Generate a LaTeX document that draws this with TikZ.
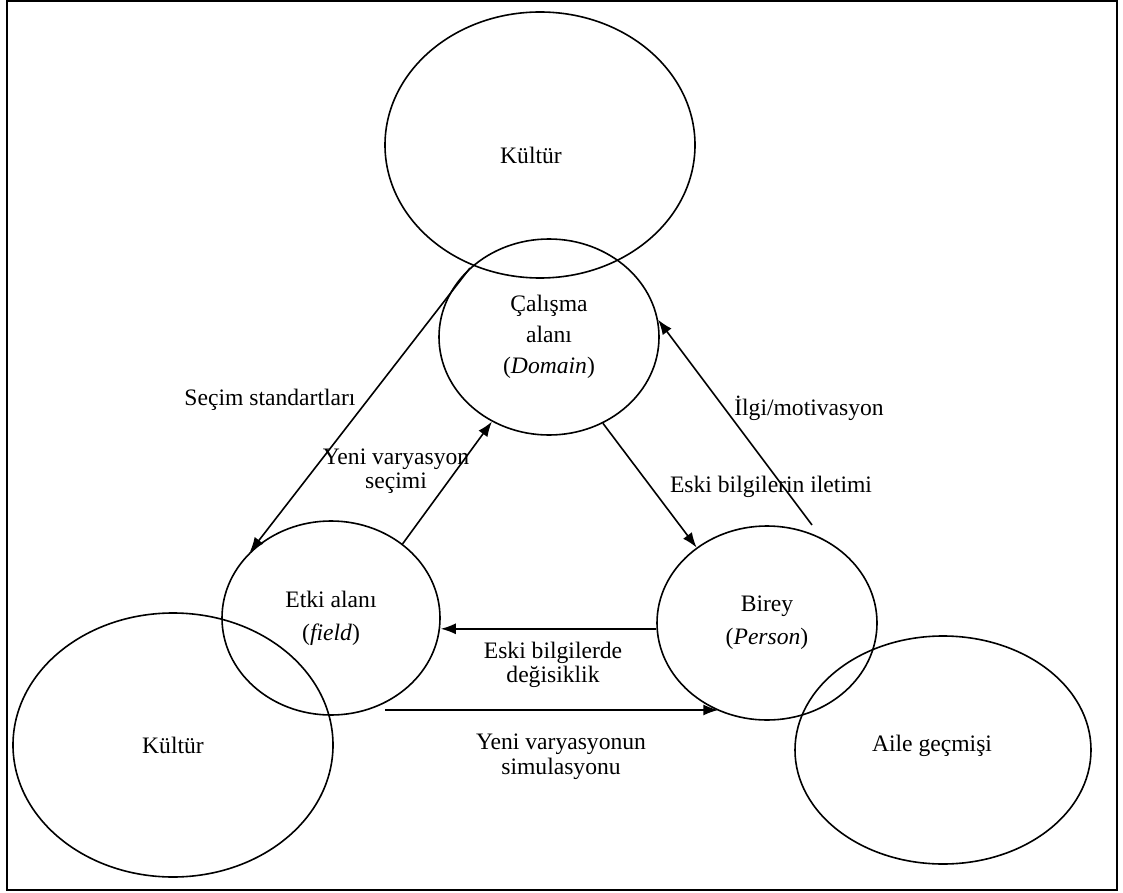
\documentclass[tikz,border=0pt]{standalone}
\usepackage{fontspec}
\setmainfont{Liberation Serif}
\usetikzlibrary{shapes.geometric,arrows.meta}
\begin{document}
\begin{tikzpicture}[x=0.5pt,y=-0.5pt,
  ell/.style={draw, ellipse, line width=0.8pt, inner sep=0pt, align=center},
  lbl/.style={align=center, inner sep=0pt, font=\fontsize{11.8}{11.8}\selectfont},
  arr/.style={line width=0.8pt, -{Latex[length=7.5pt,width=5.5pt]}},
  font=\fontsize{11.8}{15.5}\selectfont]
\useasboundingbox (0,0) rectangle (1123,893);
\draw[line width=1pt] (7,1) rectangle (1117,890);
% ellipses
\node[ell, minimum width=155pt, minimum height=133pt] (kt) at (540,145) {};
\node (ktt) at (531,155) {Kültür};
\node[ell, minimum width=110pt, minimum height=98pt] (cal) at (549,337) {Çalışma\\alanı\\(\textit{Domain})};
\node[ell, minimum width=109pt, minimum height=97pt, font=\fontsize{11.8}{16.5}\selectfont] (etki) at (331,618) {Etki alanı\\(\textit{field})};
\node[ell, minimum width=110pt, minimum height=97pt, font=\fontsize{11.8}{16.5}\selectfont] (birey) at (767,623) {Birey\\(\textit{Person})};
\node[ell, minimum width=160pt, minimum height=132pt] (kb) at (173,745) {Kültür};
\node[ell, minimum width=148pt, minimum height=114pt] (aile) at (943,750) {};
\node (ailet) at (932,746) {Aile geçmişi};
% arrows
\coordinate (s1) at (470,268);
\draw[arr] (s1) -- (etki.141);
\draw[arr] (etki.46) -- (cal.236);
\draw[arr] (cal.302) -- (birey.133);
\coordinate (m1) at (812,525);
\draw[arr] (m1) -- (cal.9);
\draw[arr] (birey.183) -- (birey.183 -| etki.east);
\coordinate (y1) at (385,710);
\draw[arr] (y1) -- (y1 -| birey.241);
% labels
\node[lbl] (l1) at (270,400) {Seçim standartları};
\node[lbl] (l2) at (396,471) {Yeni varyasyon\\seçimi};
\node[lbl] (l3) at (809,408) {İlgi/motivasyon};
\node[lbl] (l4) at (771,487) {Eski bilgilerin iletimi};
\node[lbl] (l5) at (553,665) {Eski bilgilerde\\değisiklik};
\node[lbl, font=\fontsize{11.8}{12.5}\selectfont] (l6) at (561,757) {Yeni varyasyonun\\simulasyonu};
\end{tikzpicture}
\end{document}
